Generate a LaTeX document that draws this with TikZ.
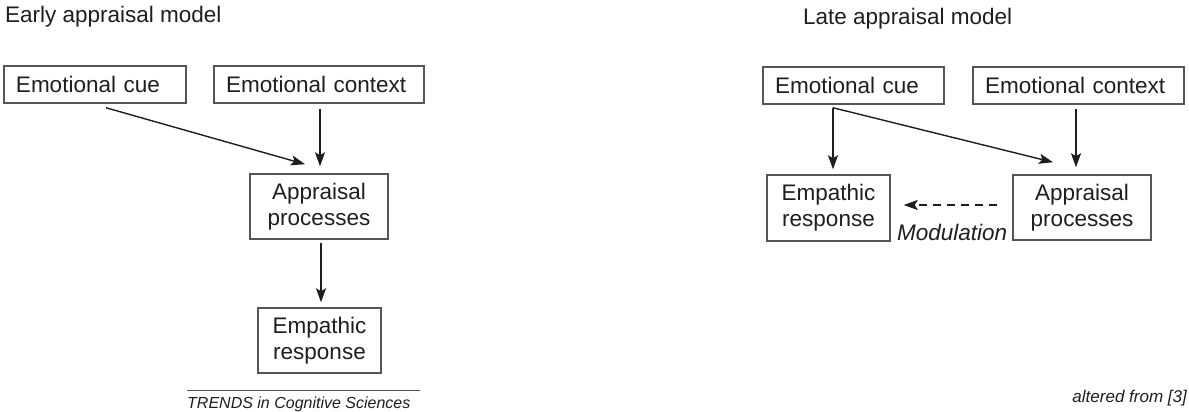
\documentclass[tikz,border=0pt]{standalone}
\usepackage{fontspec}
\setmainfont{Liberation Sans}
\usetikzlibrary{arrows.meta}
\definecolor{ink}{HTML}{1E1E1E}
\definecolor{frame}{HTML}{555555}
\begin{document}
\begin{tikzpicture}[x=1pt,y=-1pt,
  every node/.style={text=ink},
  lbl/.style={font=\fontsize{22.5}{26}\selectfont},
  wbox/.style={lbl, draw=frame, line width=1.5pt, minimum height=37pt,
    inner xsep=12pt, inner ysep=0pt, align=left},
  tbox/.style={lbl, draw=frame, line width=1.5pt, inner sep=0pt, align=center},
  arr/.style={draw=ink, line width=1.4pt,
    -{Stealth[length=14pt,width=10pt,inset=3pt]}},
  dasharr/.style={arr, dash pattern=on 8pt off 6pt},
  caption/.style={inner sep=0pt, anchor=base west}]
\useasboundingbox (0,0) rectangle (1189,412);

% ---- early appraisal model ----
\node[caption, lbl] (titleL) at (5,23) {Early appraisal model};
\node[wbox, minimum width=182pt, text width=158pt] (cueL) at (95,84.5) {Emotional cue};
\node[wbox, minimum width=210pt, text width=186pt] (ctxL) at (319,84.5) {Emotional context};
\node[tbox, minimum width=138pt, minimum height=65pt] (appL) at (319,206.5) {Appraisal\\processes};
\node[tbox, minimum width=123pt, minimum height=65pt] (empL) at (319.5,340.5) {Empathic\\response};

\draw[arr] ([xshift=11pt,yshift=-4pt]cueL.south) -- ([xshift=-14pt,yshift=9pt]appL.north);
\draw[arr] ([xshift=1pt,yshift=-5pt]ctxL.south) -- ([xshift=1pt,yshift=7pt]appL.north);
\draw[arr] ([xshift=2pt,yshift=-3pt]appL.south) -- ([xshift=1.5pt,yshift=5pt]empL.north);

\coordinate (ruleA) at (187,390);
\coordinate (ruleB) at (420,390);
\draw[frame, line width=0.9pt] (ruleA) -- (ruleB);
\node[caption, font=\fontsize{16}{19}\selectfont\itshape] (trends) at (187,408) {TRENDS in Cognitive Sciences};

% ---- late appraisal model ----
\node[caption, lbl] (titleR) at (803,25) {Late appraisal model};
\node[wbox, minimum width=181pt, text width=157pt] (cueR) at (853.5,85.5) {Emotional cue};
\node[wbox, minimum width=211pt, text width=187pt] (ctxR) at (1078.5,85.5) {Emotional context};
\node[tbox, minimum width=123pt, minimum height=66pt] (empR) at (828.5,208) {Empathic\\response};
\node[tbox, minimum width=138pt, minimum height=65pt] (appR) at (1082,207.5) {Appraisal\\processes};

\draw[arr] ([xshift=-20.5pt,yshift=-3pt]cueR.south) -- ([xshift=4.5pt,yshift=5pt]empR.north);
\draw[arr] ([xshift=-20.5pt,yshift=-3pt]cueR.south) -- ([xshift=-29pt,yshift=12pt]appR.north);
\draw[arr] ([xshift=-2.5pt,yshift=-4pt]ctxR.south) -- ([xshift=-6pt,yshift=7pt]appR.north);
\draw[dasharr] ([xshift=-15pt,yshift=2.5pt]appR.west) -- ([xshift=13pt,yshift=3pt]empR.east);
\node[caption, lbl, font=\fontsize{22.5}{26}\selectfont\itshape] (modul) at (897,240) {Modulation};

\node[inner sep=0pt, anchor=base east, font=\fontsize{17}{20}\selectfont\itshape] (source) at (1187,402) {altered from [3]};
\end{tikzpicture}
\end{document}
